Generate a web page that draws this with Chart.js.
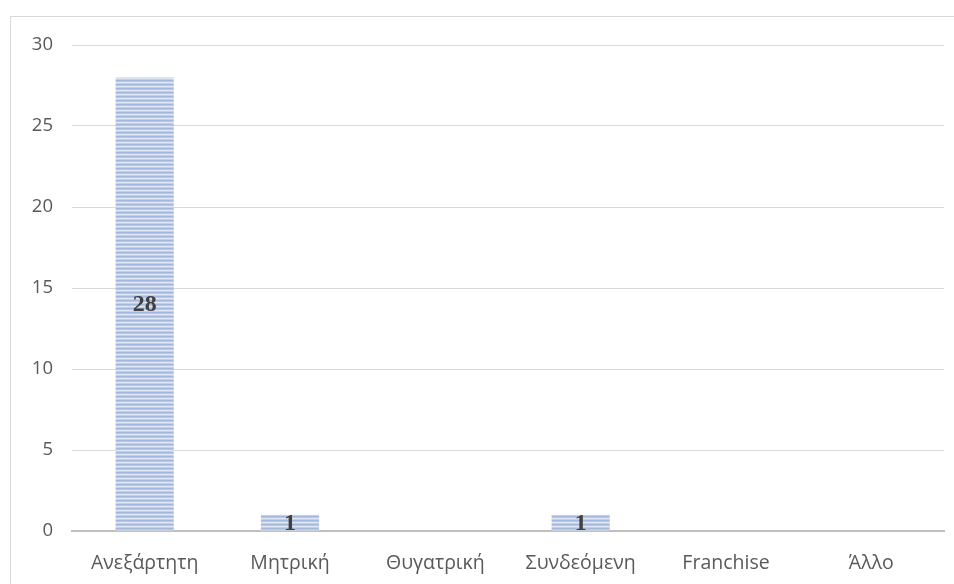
<!DOCTYPE html>
<html>
<head>
<meta charset="utf-8">
<script src="https://cdn.jsdelivr.net/npm/chart.js@4.4.1/dist/chart.umd.min.js"></script>
<style>
  html, body { margin: 0; padding: 0; background: #fff; overflow: hidden; }
  #wrap { position: relative; width: 954px; height: 584px; }
  #frame { position: absolute; left: 10px; top: 16px; width: 980px; height: 620px; border: 1px solid #d9d9d9; box-sizing: border-box; }
  canvas { position: absolute; left: 0; top: 0; }
</style>
</head>
<body>
<div id="wrap">
  <div id="frame"></div>
  <canvas id="chart" width="954" height="584"></canvas>
</div>
<script>
// ── Data ──────────────────────────────────────────────────────────────────────
const categories = ['Ανεξάρτητη', 'Μητρική', 'Θυγατρική', 'Συνδεόμενη', 'Franchise', 'Άλλο'];
const values     = [28, 1, 0, 1, 0, 0];
const yTicks     = [0, 5, 10, 15, 20, 25, 30];

// ── Striped fill (horizontal lines) ───────────────────────────────────────────
function stripePattern() {
  const rows = ['#a4b8de', '#b7c7e6', '#dee5f3', '#c3d0ea'];
  const c = document.createElement('canvas');
  c.width = 4; c.height = rows.length;
  const g = c.getContext('2d');
  rows.forEach((col, i) => { g.fillStyle = col; g.fillRect(0, i, 4, 1); });
  return g.createPattern(c, 'repeat');
}

// ── Value labels centred in bars ─────────────────────────────────────────────
const barLabels = {
  id: 'barLabels',
  afterDatasetsDraw(chart) {
    const ctx = chart.ctx;
    const meta = chart.getDatasetMeta(0);
    ctx.save();
    ctx.font = 'bold 24px "Liberation Serif", "DejaVu Serif", serif';
    ctx.fillStyle = '#404040';
    ctx.textAlign = 'center';
    ctx.textBaseline = 'middle';
    meta.data.forEach((bar, i) => {
      if (!values[i]) return;
      ctx.fillText(String(values[i]), bar.x, (bar.y + bar.base) / 2 + 1);
    });
    ctx.restore();
  },
};

const xFont = { family: '"Open Sans", "Noto Sans", sans-serif', size: 19.5 };
const yFont = { family: '"Open Sans", "Noto Sans", sans-serif', size: 18.5 };

new Chart(document.getElementById('chart'), {
  type: 'bar',
  data: {
    labels: categories,
    datasets: [{
      data: values,
      backgroundColor: stripePattern(),
      borderWidth: 0,
      categoryPercentage: 1,
      barPercentage: 0.4,
    }],
  },
  options: {
    responsive: false,
    animation: false,
    layout: { padding: { left: 0, right: 10, top: 45, bottom: 0 } },
    plugins: { legend: { display: false }, tooltip: { enabled: false } },
    scales: {
      x: {
        afterFit: s => { s.height = 53; },
        grid: { display: false, drawTicks: false },
        border: { display: true, color: '#bfbfbf', width: 2 },
        ticks: { color: '#595959', font: xFont, padding: 21, maxRotation: 0 },
      },
      y: {
        min: 0,
        max: 30,
        afterFit: s => { s.width = 72; },
        afterBuildTicks: s => { s.ticks = yTicks.map(v => ({ value: v })); },
        grid: { color: '#d9d9d9', lineWidth: 1, drawTicks: false },
        border: { display: false },
        ticks: { color: '#595959', font: yFont, padding: 19 },
      },
    },
  },
  plugins: [barLabels],
});
</script>
</body>
</html>
